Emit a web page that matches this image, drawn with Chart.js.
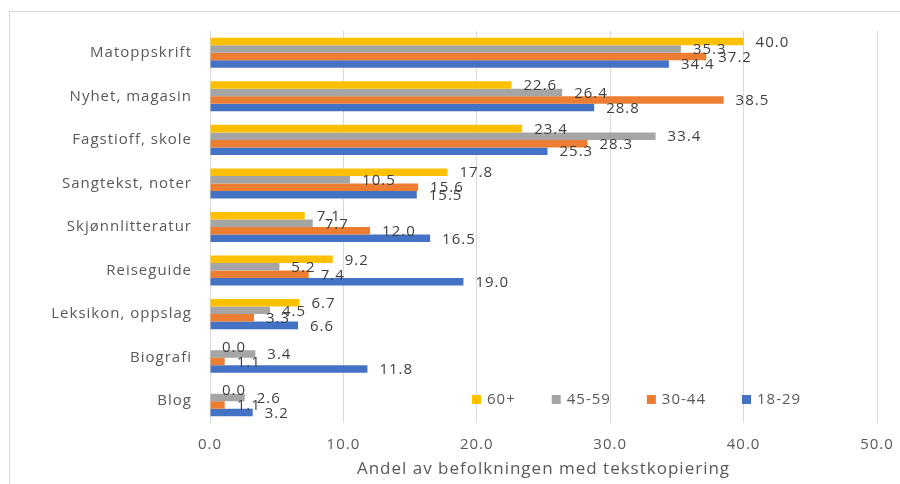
<!DOCTYPE html>
<html><head><meta charset="utf-8">
<script src="https://cdn.jsdelivr.net/npm/chart.js@4.4.1/dist/chart.umd.min.js"></script>
<style>html,body{margin:0;padding:0;background:#fff;overflow:hidden}canvas{display:block}</style>
</head><body><canvas id="c" width="900" height="484"></canvas>
<script>
const categories = ['Matoppskrift','Nyhet, magasin','Fagstioff, skole','Sangtekst, noter','Skjønnlitteratur','Reiseguide','Leksikon, oppslag','Biografi','Blog'];
const seriesNames = ['60+','45-59','30-44','18-29'];
const s60 = [40.0,22.6,23.4,17.8,7.1,9.2,6.7,0.0,0.0];
const s45 = [35.3,26.4,33.4,10.5,7.7,5.2,4.5,3.4,2.6];
const s30 = [37.2,38.5,28.3,15.6,12.0,7.4,3.3,1.1,1.1];
const s18 = [34.4,28.8,25.3,15.5,16.5,19.0,6.6,11.8,3.2];
const xTicks = [0,10,20,30,40,50];
const axisTitle = 'Andel av befolkningen med tekstkopiering';
const colors = ['#FFC000','#A5A5A5','#ED7D31','#4472C4'];
const FONT = '"Open Sans", sans-serif';
const SPACING = '1px';

const spacingPlugin = {
  id:'spacing',
  beforeUpdate(c){ c.ctx.letterSpacing = SPACING; },
  beforeDraw(c){
    const ctx = c.ctx;
    ctx.letterSpacing = SPACING;
    ctx.save();
    ctx.fillStyle = '#fff';
    ctx.fillRect(0,0,c.width,c.height);
    ctx.strokeStyle = '#d9d9d9';
    ctx.lineWidth = 1;
    ctx.strokeRect(9.5, 11.5, 1000, 1000);
    ctx.restore();
  }
};

const labelPlugin = {
  id:'valueLabels',
  afterDatasetsDraw(c){
    const ctx = c.ctx;
    ctx.save();
    ctx.font = '15px ' + FONT;
    ctx.fillStyle = '#404040';
    ctx.textAlign = 'left';
    ctx.textBaseline = 'middle';
    c.data.datasets.forEach((ds, i) => {
      const meta = c.getDatasetMeta(i);
      meta.data.forEach((el, j) => {
        ctx.fillText(ds.data[j].toFixed(1), el.x + 12, el.y + 1);
      });
    });
    ctx.restore();
  }
};

const legendPlugin = {
  id:'innerLegend',
  afterDraw(c){
    const ctx = c.ctx;
    ctx.save();
    ctx.font = '15px ' + FONT;
    ctx.textAlign = 'left';
    ctx.textBaseline = 'middle';
    let x = 472;
    const y = 400;
    c.data.datasets.forEach((ds) => {
      ctx.fillStyle = ds.backgroundColor;
      ctx.fillRect(x, y - 5, 9, 9);
      ctx.fillStyle = '#595959';
      ctx.fillText(ds.label, x + 15, y);
      x += 15 + ctx.measureText(ds.label).width + 36;
    });
    ctx.restore();
  }
};

const datasets = [s60, s45, s30, s18].map((d, i) => ({
  label: seriesNames[i],
  data: d,
  backgroundColor: colors[i],
  borderWidth: 0,
  categoryPercentage: 0.69,
  barPercentage: 1.0
}));

new Chart(document.getElementById('c'), {
  type: 'bar',
  data: { labels: categories, datasets },
  options: {
    indexAxis: 'y',
    responsive: false,
    animation: false,
    layout: { padding: { left: 0, top: 31, right: 23, bottom: 0 } },
    plugins: { legend: { display: false }, tooltip: { enabled: false } },
    scales: {
      x: {
        min: 0, max: 50,
        afterBuildTicks(s){ s.ticks = xTicks.map(v => ({ value: v })); },
        afterFit(s){ s.height = 61; s.paddingRight = 0; s.paddingLeft = 0; },
        grid: { color: '#d9d9d9', drawTicks: false },
        border: { display: false },
        ticks: { padding: 13, color: '#595959', font: { family: FONT, size: 15 },
                 callback: v => Number(v).toFixed(1) },
        title: { display: true, text: axisTitle, color: '#595959',
                 font: { family: FONT, size: 17 }, padding: { top: 0, bottom: 5 } }
      },
      y: {
        afterFit(s){ s.width = 210; s.paddingTop = 0; s.paddingBottom = 0; },
        grid: { display: false, drawTicks: false },
        border: { display: false },
        ticks: { padding: 18, color: '#595959', font: { family: FONT, size: 15 } }
      }
    }
  },
  plugins: [spacingPlugin, labelPlugin, legendPlugin]
});
</script>
</body></html>
